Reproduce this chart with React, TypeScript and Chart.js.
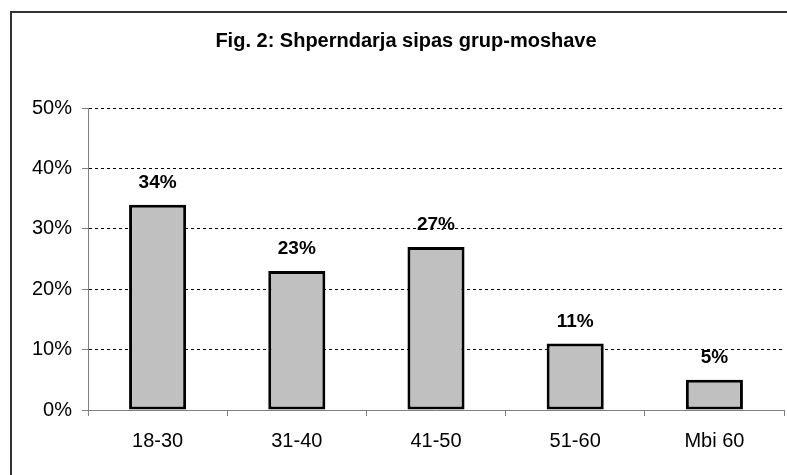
import React, { useEffect, useRef } from "react";
import { Chart, registerables } from "chart.js";

Chart.register(...registerables);

const TITLE = "Fig. 2: Shperndarja sipas grup-moshave";
const categories = ["18-30", "31-40", "41-50", "51-60", "Mbi 60"];
const values = [34, 23, 27, 11, 5];
const yTicks = [0, 10, 20, 30, 40, 50];

const FONT = "'Liberation Sans', Arial, sans-serif";

const labelPlugin = {
  id: "barLabels",
  afterDatasetsDraw(chart: any) {
    const ctx = chart.ctx;
    const meta = chart.getDatasetMeta(0);
    ctx.save();
    ctx.font = `bold 19px ${FONT}`;
    ctx.fillStyle = "#000";
    ctx.textAlign = "center";
    ctx.textBaseline = "alphabetic";
    meta.data.forEach((bar: any, i: number) => {
      ctx.fillText(`${values[i]}%`, bar.x, bar.y - 17);
    });
    ctx.restore();
  },
};

export default function App() {
  const ref = useRef<HTMLCanvasElement | null>(null);
  useEffect(() => {
    if (!ref.current) return;
    const chart = new Chart(ref.current, {
      type: "bar",
      data: {
        labels: categories,
        datasets: [
          {
            data: values,
            backgroundColor: "#C0C0C0",
            borderColor: "#000",
            borderWidth: 3,
            borderSkipped: false,
            categoryPercentage: 1,
            barPercentage: 0.41,
          },
        ],
      },
      options: {
        animation: false,
        responsive: false,
        layout: { padding: { left: 28, right: 3, top: 0, bottom: 0 } },
        plugins: {
          legend: { display: false },
          tooltip: { enabled: false },
          title: {
            display: true,
            text: TITLE,
            color: "#000",
            font: { family: FONT, size: 20, weight: "bold", lineHeight: 1.2 },
            padding: { top: 29, bottom: 55 },
          },
        },
        scales: {
          x: {
            grid: {
              display: true,
              drawOnChartArea: false,
              drawTicks: true,
              tickLength: 6,
              tickColor: "#808080",
              offset: true,
            },
            border: { display: true, color: "#808080", width: 1 },
            ticks: {
              color: "#000",
              font: { family: FONT, size: 20 },
              padding: 13,
              maxRotation: 0,
            },
            afterFit: (s: any) => {
              s.height = 65;
            },
          },
          y: {
            min: 0,
            max: 50,
            afterBuildTicks: (s: any) => {
              s.ticks = yTicks.map((v) => ({ value: v }));
            },
            grid: {
              color: (c: any) => (c.tick && c.tick.value === 0 ? "rgba(0,0,0,0)" : "#000"),
              tickColor: "#808080",
              tickLength: 6,
              lineWidth: 1,
            },
            border: { display: true, color: "#808080", width: 1, dash: [3, 3] },
            ticks: {
              color: "#000",
              font: { family: FONT, size: 20 },
              padding: 10,
              callback: (v: any) => `${v}%`,
            },
            afterFit: (s: any) => {
              s.width = 60;
            },
          },
        },
      },
      plugins: [labelPlugin],
    });
    return () => chart.destroy();
  }, []);

  return (
    <div
      style={{
        position: "absolute",
        left: 0,
        top: 0,
        width: 787,
        height: 475,
        overflow: "hidden",
        background: "#fff",
      }}
    >
      <div
        style={{
          position: "absolute",
          left: 10,
          top: 11,
          width: 900,
          height: 600,
          borderLeft: "2px solid #333",
          borderTop: "2px solid #333",
        }}
      />
      <canvas
        ref={ref}
        width={787}
        height={475}
        style={{ position: "absolute", left: 0, top: 0, width: 787, height: 475 }}
      />
    </div>
  );
}
